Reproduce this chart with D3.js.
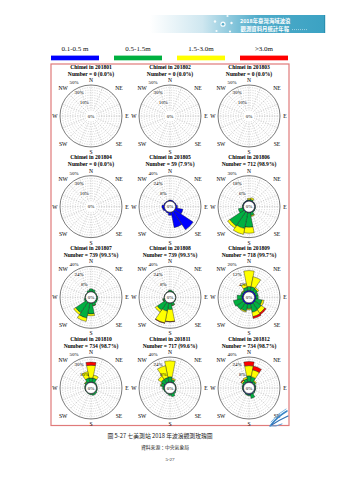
<!DOCTYPE html>
<html>
<head>
<meta charset="utf-8">
<script src="https://cdn.jsdelivr.net/npm/d3@7"></script>
<style>
  body { margin: 0; background: #fff; }
  svg { display: block; }
</style>
</head>
<body>
<svg id="page" width="339" height="480"></svg>
<script>
// ---- data -------------------------------------------------------------
const station = "Chimei";
const months = ["201801", "201802", "201803", "201804", "201805", "201806",
                "201807", "201808", "201809", "201810", "201811", "201812"];
const counts = [0, 0, 0, 0, 59, 712, 739, 739, 718, 734, 717, 734];
const validRates = [0, 0, 0, 0, 7.9, 98.9, 99.3, 99.3, 99.7, 98.7, 99.6, 98.7];
// outermost ring (percent) of each month's rose
const ringMax = [50, 50, 50, 50, 40, 30, 40, 40, 20, 50, 40, 40];

const directions = ["N", "NNE", "NE", "ENE", "E", "ESE", "SE", "SSE",
                    "S", "SSW", "SW", "WSW", "W", "WNW", "NW", "NNW"];
const heightClasses = ["0.1-0.5 m", "0.5-1.5m", "1.5-3.0m", ">3.0m"];
const classColors = ["#0000ff", "#00b040", "#ffff00", "#ff0000"];

// percent of records per direction, split by wave height class
// [0.1-0.5 m, 0.5-1.5 m, 1.5-3.0 m, >3.0 m], directions N..NNW clockwise
const rose05 = [[2,0,0,0],[1.5,0,0,0],[1,0,0,0],[1.5,0,0,0],[3,0,0,0],[12,0,0,0],[35,0,0,0],[25,0,0,0],
                [5,0,0,0],[2,0,0,0],[1.5,0,0,0],[3,0,0,0],[4,0,0,0],[1.5,0,0,0],[1,0,0,0],[1,0,0,0]];
const rose06 = [[0.8,1,1.5,0],[0.8,1.5,2,0],[0.8,0.3,0,0],[0.8,0.2,0,0],[0.8,0.3,0,0],[0.8,0.4,0,0],[0.8,0.8,0,0],[0.8,3.5,1,0],
                [0.8,17,7,0],[0.8,19,7,0],[0.8,20,3,0],[0.8,5.5,0,0],[0.8,0.7,0,0],[0.8,0.3,0,0],[0.8,0.3,0,0],[0.8,0.3,0,0]];
const rose07 = [[0.3,4.5,0,0],[0.3,3.5,0,0],[0.2,1.3,0,0],[0.2,0.8,0,0],[0.2,1.8,0,0],[0.2,2,0,0],[0.3,2.5,0,0],[0.5,4.5,0.3,0],
                [0.5,17,3,0],[0.5,24,5.5,0],[0.5,20,3.5,0],[0.3,2.2,0,0],[0.2,0.8,0,0],[0.1,0.5,0,0],[0.1,0.6,0,0],[0.3,2.5,0,0]];
const rose08 = [[0.3,2.5,0,0],[0.3,1.5,0,0],[0.2,0.6,0,0],[0.2,0.4,0,0],[0.2,0.6,0,0],[0.2,0.6,0,0],[0.3,1,0,0],[0.5,4,0.5,0],
                [0.5,10,19,0.5],[0.5,13,19,0.5],[0.5,15,4,0],[0.3,2.5,0.2,0],[0.2,0.6,0,0],[0.1,0.3,0,0],[0.1,0.3,0,0],[0.2,0.7,0,0]];
const rose09 = [[1.2,3,12.5,0],[1.2,3,8,0],[1.2,2.5,1.3,0],[1.2,1.8,0,0],[1.2,1.8,0,0],[1.2,5,1.5,0],[1.2,6,3.5,1.2],[1.2,6.5,3.5,1.5],
                [1.2,3.5,0.8,0],[1.2,5.5,0.8,0],[1.2,6,0,0],[1.2,7,0,0],[1.2,3.8,0,0],[1.2,1.3,0,0],[1.2,1,0.5,0],[1.2,2.5,3,0]];
const rose10 = [[1,8,25,6],[1,8,6,0],[0.5,2,0,0],[0.5,1,0,0],[0.5,1,0,0],[0.5,1.5,0,0],[0.5,3,0,0],[0.5,3.5,0,0],
                [0.5,2,0,0],[0.5,1,0,0],[0.5,0.5,0,0],[0.5,0.5,0,0],[0.5,1,0,0],[0.5,1.5,0,0],[1,3,1,0],[1,8,13,0]];
const rose11 = [[1,8,25,0],[1,4,2,0],[0.5,1,0,0],[0.5,0.5,0,0],[0.5,0.5,0,0],[0.5,1,0,0],[0.5,2,0,0],[0.5,5,0,0],
                [0.5,2.5,0,0],[0.5,1,0,0],[0.5,0.5,0,0],[0.5,1,0,0],[0.5,2.5,0,0],[1,5,1,0],[1,7,6,0],[1,7,19,0]];
const rose12 = [[1.5,9,16,6.5],[1.5,8,11,6],[1,3,1.5,0],[1,1.5,0,0],[1,1,0,0],[1,1,0,0],[1,1.5,0,0],[1.5,6.5,0,0],
                [2,1.5,0,0],[1.5,1,0,0],[1,0.5,0,0],[1,0.5,0,0],[1,1,0,0],[1,1.5,0,0],[1,3,2,1],[1,5,2.5,0]];
const roses = [null, null, null, null, rose05, rose06, rose07, rose08, rose09, rose10, rose11, rose12];

// ---- drawing ----------------------------------------------------------
const svg = d3.select("#page");
const serif = "'Liberation Serif', 'Times New Roman', serif";
const cjk = "'Noto Sans CJK TC', 'Noto Sans CJK SC', sans-serif";

// report header banner
const defs = svg.append("defs");
const fade = defs.append("linearGradient").attr("id", "bannerFade").attr("x1", 0).attr("x2", 1);
[[0, "#ffffff"], [0.3, "#cfe7f0"], [0.5, "#7cc1d8"], [0.62, "#4eabc9"], [1, "#3ba2c3"]]
  .forEach(([o, c]) => fade.append("stop").attr("offset", o).attr("stop-color", c));
const banner = svg.append("g");
banner.append("rect").attr("x", 150).attr("y", 15).attr("width", 175).attr("height", 18)
  .attr("fill", "url(#bannerFade)");
banner.append("rect").attr("x", 324).attr("y", 15).attr("width", 1.2).attr("height", 18).attr("fill", "#2a8fb0");
[[227.5, 16, 1.1], [215, 21.5, 1.2], [223, 24.2, 2.6], [231.5, 23, 1.2], [216.5, 31, 1.1], [230, 31.5, 1.1]]
  .forEach(([x, y, r]) => banner.append("circle").attr("cx", x).attr("cy", y).attr("r", r)
    .attr("fill", "#ffffff").attr("opacity", 0.9));
banner.append("circle").attr("cx", 223).attr("cy", 24.2).attr("r", 1.3).attr("fill", "#5aaecb");
banner.append("text").attr("x", 240).attr("y", 22.8).text("2018年臺灣海域波浪")
  .attr("font-family", cjk).attr("font-size", 5.4).attr("font-weight", 700).attr("fill", "#fff");
banner.append("text").attr("x", 240.5).attr("y", 30.8).text("觀測資料月統計年報")
  .attr("font-family", cjk).attr("font-size", 5.4).attr("font-weight", 700).attr("fill", "#fff");
banner.append("line").attr("x1", 292).attr("x2", 308).attr("y1", 29.6).attr("y2", 29.6)
  .attr("stroke", "#fff").attr("stroke-width", 0.5).attr("stroke-dasharray", "1,1");

// wave height legend
const legendX = d3.scaleLinear().domain([0, heightClasses.length - 1]).range([75, 264]);
const legend = svg.append("g");
heightClasses.forEach((label, i) => {
  legend.append("text").attr("x", legendX(i)).attr("y", 50.6).attr("text-anchor", "middle")
    .attr("font-family", serif).attr("font-size", 7).attr("fill", "#111").text(label);
  legend.append("rect").attr("x", legendX(i) - 24).attr("y", 55.6).attr("width", 48).attr("height", 4.7)
    .attr("fill", classColors[i]);
});

// frame around the rose grid
svg.append("rect").attr("x", 51).attr("y", 64).attr("width", 238).attr("height", 361.5)
  .attr("fill", "none").attr("stroke", "#e07a7a").attr("stroke-width", 1.2);

// rose grid layout
const colX = d3.scalePoint().domain([0, 1, 2]).range([91, 249]);
const rowY = d3.scalePoint().domain([0, 1, 2, 3]).range([116, 388]);
const R = 31, R0 = 5.5;
const dirAngle = d3.scaleBand().domain(directions).range([-Math.PI / 16, 2 * Math.PI - Math.PI / 16]);
const arc = d3.arc();
const polar = (a, r) => [Math.sin(a) * r, -Math.cos(a) * r];

months.forEach((m, i) => {
  const g = svg.append("g")
    .attr("transform", `translate(${colX(i % 3)},${rowY(Math.floor(i / 3))})`);
  const max = ringMax[i];
  const r = d3.scaleLinear().domain([0, max]).range([R0, R]);

  g.append("text").attr("y", -47.5).attr("text-anchor", "middle")
    .attr("font-family", serif).attr("font-size", 5.6).attr("font-weight", 700)
    .text(`${station} in ${m}`);
  g.append("text").attr("y", -40.5).attr("text-anchor", "middle")
    .attr("font-family", serif).attr("font-size", 5.6).attr("font-weight", 700)
    .text(`Number = ${counts[i]} (${validRates[i].toFixed(1)}%)`);

  // grid: dashed rings and spokes
  const grid = g.append("g").attr("fill", "none").attr("stroke", "#a0a0a0")
    .attr("stroke-width", 0.4).attr("stroke-dasharray", "1.2,1.2");
  d3.range(1, 10).forEach(k => grid.append("circle").attr("r", r(max * k / 10)));
  directions.forEach(d => {
    const a = dirAngle(d) + dirAngle.bandwidth() / 2;
    const [x1, y1] = polar(a, R0), [x2, y2] = polar(a, R);
    grid.append("line").attr("x1", x1).attr("y1", y1).attr("x2", x2).attr("y2", y2);
  });
  g.append("circle").attr("r", R).attr("fill", "none").attr("stroke", "#222").attr("stroke-width", 0.6);

  // petals stacked by height class
  const rose = roses[i];
  if (rose) {
    const petals = g.append("g").attr("stroke", "#1a1a1a").attr("stroke-width", 0.4);
    rose.forEach((vals, di) => {
      const a0 = dirAngle(directions[di]), a1 = a0 + dirAngle.bandwidth();
      const cum = Array.from(d3.cumsum(vals));
      vals.forEach((v, ci) => {
        if (v <= 0) return;
        const inner = ci === 0 ? 0 : cum[ci - 1];
        petals.append("path")
          .attr("d", arc({ innerRadius: r(inner), outerRadius: r(cum[ci]), startAngle: a0, endAngle: a1 }))
          .attr("fill", classColors[ci]);
      });
    });
    g.append("circle").attr("r", R0).attr("fill", "#fff").attr("stroke", "#111").attr("stroke-width", 0.5);
  }
  g.append("text").attr("y", 1.7).attr("text-anchor", "middle")
    .attr("font-family", serif).attr("font-size", 5).text("0%");

  // ring labels
  const la = -27 * Math.PI / 180;
  [max / 5, max * 3 / 5, max].forEach(v => {
    const [x, y] = polar(la, r(v) * 1.1 + 3.2);
    g.append("text").attr("x", x).attr("y", y + 1.7).attr("text-anchor", "middle")
      .attr("font-family", serif).attr("font-size", 5).text(`${Math.round(v)}%`);
  });

  // compass labels
  [["N", 0, 36], ["NE", 45, 39.5], ["E", 90, 36], ["SE", 135, 39.5],
   ["S", 180, 36], ["SW", 225, 39.5], ["W", 270, 36], ["NW", 315, 39.5]].forEach(([t, deg, dist]) => {
    const [x, y] = polar(deg * Math.PI / 180, dist);
    g.append("text").attr("x", x).attr("y", y + 1.9).attr("text-anchor", "middle")
      .attr("font-family", serif).attr("font-size", 5.6).text(t);
  });
});

// data-centre mark in the lower right corner
const logo = svg.append("g").attr("transform", "translate(279,418)")
  .attr("fill", "none").attr("stroke-linecap", "round");
logo.append("path").attr("d", "M-8,7 Q-2,-1 8,-7").attr("stroke", "#3b86c8").attr("stroke-width", 1.6);
logo.append("path").attr("d", "M-8,4 Q-1,-5 7,-9").attr("stroke", "#7fb8e4").attr("stroke-width", 1);
logo.append("path").attr("d", "M-9,8 Q0,2 9,-2").attr("stroke", "#2e6fb4").attr("stroke-width", 1.2);
logo.append("path").attr("d", "M-9,8 Q-3,9 3,6").attr("stroke", "#5aa0d8").attr("stroke-width", 1);

// caption
svg.append("text").attr("x", 160).attr("y", 438).attr("text-anchor", "middle")
  .attr("font-family", cjk).attr("font-size", 5.8).attr("fill", "#222")
  .text("圖 5-27 七美測站 2018 年波浪觀測玫瑰圖");
svg.append("text").attr("x", 165).attr("y", 448.5).attr("text-anchor", "middle")
  .attr("font-family", cjk).attr("font-size", 4.8).attr("fill", "#222")
  .text("資料來源：中央氣象局");
svg.append("text").attr("x", 170).attr("y", 461).attr("text-anchor", "middle")
  .attr("font-family", serif).attr("font-size", 5).attr("fill", "#222").text("5-27");
</script>
</body>
</html>
